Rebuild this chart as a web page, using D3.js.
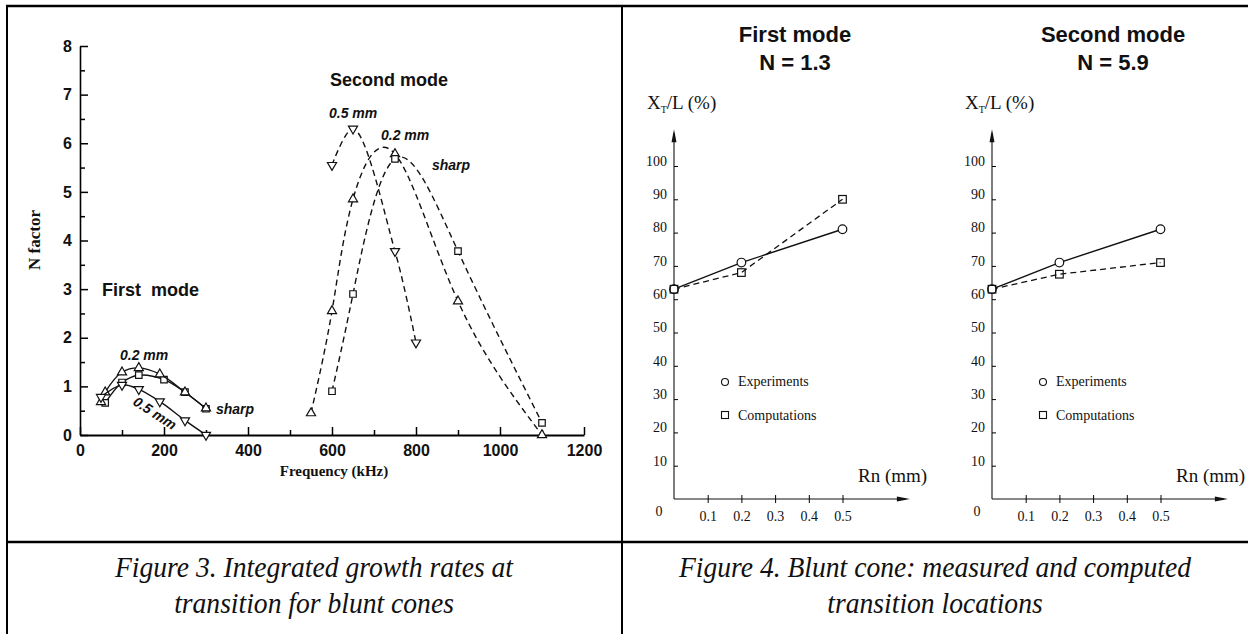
<!DOCTYPE html>
<html>
<head>
<meta charset="utf-8">
<script src="https://cdn.jsdelivr.net/npm/d3@7"></script>
<style>
  body { margin: 0; background: #fff; }
  text { fill: #111; }
</style>
</head>
<body>
<svg id="fig" width="1248" height="634"></svg>
<script>
/* Figure 3 data - N factor vs frequency (kHz) */
/* first mode, solid lines */
const m1SharpFreq = [60, 100, 140, 200, 250, 300];
const m1SharpN    = [0.66, 1.08, 1.23, 1.14, 0.88, 0.54];
const m1Blunt02Freq = [50, 60, 100, 140, 190, 250, 300];
const m1Blunt02N    = [0.68, 0.88, 1.29, 1.38, 1.25, 0.88, 0.55];
const m1Blunt05Freq = [50, 100, 140, 190, 250, 300];
const m1Blunt05N    = [0.78, 1.03, 0.94, 0.69, 0.30, 0.0];
/* second mode, dashed lines */
const m2Blunt05Freq = [600, 650, 750, 800];
const m2Blunt05N    = [5.55, 6.30, 3.78, 1.90];
const m2Blunt02Freq = [550, 600, 650, 750, 900, 1100];
const m2Blunt02N    = [0.45, 2.55, 4.85, 5.78, 2.75, 0.0];
const m2SharpFreq = [600, 650, 750, 900, 1100];
const m2SharpN    = [0.90, 2.90, 5.68, 3.78, 0.25];
const freqTicks = [0, 200, 400, 600, 800, 1000, 1200];
const nTicks = [0, 1, 2, 3, 4, 5, 6, 7, 8];

/* Figure 4 data - transition location XT/L (%) vs nose radius Rn (mm) */
const rnValues = [0, 0.2, 0.5];
const firstExp  = [63, 71, 81];
const firstComp = [63, 68, 90];
const secondExp  = [63, 71, 81];
const secondComp = [63, 67.5, 71];
const rnTicks = [0.1, 0.2, 0.3, 0.4, 0.5];
const xtTicks = [10, 20, 30, 40, 50, 60, 70, 80, 90, 100];

const svg = d3.select("#fig");
const sans = "'Liberation Sans', Arial, Helvetica, sans-serif";
const serif = "'Liberation Serif', 'Times New Roman', serif";

svg.append("rect").attr("width", 1248).attr("height", 634).attr("fill", "#fff");

/* table frame */
const frame = svg.append("g").attr("stroke", "#000").attr("fill", "none");
frame.append("line").attr("x1", 6).attr("x2", 1248).attr("y1", 6).attr("y2", 6).attr("stroke-width", 2.5);
frame.append("line").attr("x1", 7).attr("x2", 7).attr("y1", 5).attr("y2", 634).attr("stroke-width", 2);
frame.append("line").attr("x1", 622).attr("x2", 622).attr("y1", 5).attr("y2", 634).attr("stroke-width", 2);
frame.append("line").attr("x1", 6).attr("x2", 1248).attr("y1", 542).attr("y2", 542).attr("stroke-width", 2.5);

/* captions - tall, slightly condensed italic */
const cap = svg.append("g")
    .style("font-family", serif)
    .style("font-style", "italic")
    .style("font-size", "30px")
    .attr("text-anchor", "middle");
const capLines = [
    [314, 577, "Figure 3. Integrated growth rates at"],
    [314, 613, "transition for blunt cones"],
    [935, 577, "Figure 4. Blunt cone: measured and computed"],
    [935, 613, "transition locations"]
];
capLines.forEach(c => {
    cap.append("text")
        .attr("transform", `translate(${c[0]},${c[1]}) scale(0.92,1)`)
        .text(c[2]);
});

/* ---------- Figure 3 ---------- */
const x3 = d3.scaleLinear().domain([0, 1200]).range([80, 584]);
const y3 = d3.scaleLinear().domain([0, 8]).range([435, 46]);
const g3 = svg.append("g");

/* minor ticks */
g3.append("g").attr("transform", "translate(80,0)")
    .call(d3.axisLeft(y3).tickValues(d3.range(0.5, 8, 1)).tickSizeInner(-5).tickSizeOuter(0).tickFormat(""))
    .call(g => g.select(".domain").remove());
g3.append("g").attr("transform", "translate(0,435)")
    .call(d3.axisBottom(x3).tickValues(d3.range(100, 1200, 200)).tickSizeInner(-5).tickSizeOuter(0).tickFormat(""))
    .call(g => g.select(".domain").remove());

const yAx3 = g3.append("g").attr("transform", "translate(80,0)")
    .call(d3.axisLeft(y3).tickValues(nTicks).tickSizeInner(-8).tickSizeOuter(0).tickPadding(8));
yAx3.select(".domain").attr("stroke-width", 1.6);
const xAx3 = g3.append("g").attr("transform", "translate(0,435)")
    .call(d3.axisBottom(x3).tickValues(freqTicks).tickSizeInner(-8).tickSizeOuter(0).tickPadding(10)
        .tickFormat(d3.format("d")));
xAx3.select(".domain").attr("stroke-width", 2.2);
g3.selectAll(".tick line").attr("stroke-width", 1.5);
g3.selectAll(".tick text")
    .style("font-family", sans).style("font-weight", "bold").style("font-size", "16px").attr("fill", "#111");

g3.append("text")
    .attr("transform", "translate(40,240) rotate(-90)")
    .attr("text-anchor", "middle")
    .style("font-family", serif).style("font-weight", "bold").style("font-size", "17px")
    .text("N factor");
g3.append("text")
    .attr("x", 334).attr("y", 476)
    .attr("text-anchor", "middle")
    .style("font-family", serif).style("font-weight", "bold").style("font-size", "15px")
    .text("Frequency (kHz)");

const lineRound = d3.line()
    .x(d => x3(d[0]))
    .y(d => y3(d[1]))
    .curve(d3.curveCatmullRom.alpha(0.5));
const lineNatural = d3.line()
    .x(d => x3(d[0]))
    .y(d => y3(d[1]))
    .curve(d3.curveNatural);

const series3 = [
    { f: m1SharpFreq, n: m1SharpN, sym: "square", dash: null, line: lineRound },
    { f: m1Blunt02Freq, n: m1Blunt02N, sym: "up", dash: null, line: lineRound },
    { f: m1Blunt05Freq, n: m1Blunt05N, sym: "down", dash: null, line: lineRound },
    { f: m2Blunt05Freq, n: m2Blunt05N, sym: "down", dash: "6,4", line: lineRound },
    { f: m2Blunt02Freq, n: m2Blunt02N, sym: "up", dash: "6,4", line: lineNatural },
    { f: m2SharpFreq, n: m2SharpN, sym: "square", dash: "6,4", line: lineNatural }
];

const sqSym = d3.symbol().type(d3.symbolSquare).size(42);
const triSym = d3.symbol().type(d3.symbolTriangle).size(36);

series3.forEach(s => {
    const pts = s.f.map((f, i) => [f, s.n[i]]);
    g3.append("path")
        .attr("d", s.line(pts))
        .attr("fill", "none")
        .attr("stroke", "#111")
        .attr("stroke-width", 1.4)
        .attr("stroke-dasharray", s.dash);
    g3.selectAll(null)
        .data(pts)
        .join("path")
        .attr("d", s.sym === "square" ? sqSym() : triSym())
        .attr("transform", d => `translate(${x3(d[0])},${y3(d[1])})` + (s.sym === "down" ? " rotate(180)" : ""))
        .attr("fill", "#fff")
        .attr("stroke", "#111")
        .attr("stroke-width", 1.2);
});

const lab3 = g3.append("g")
    .style("font-family", sans).style("font-weight", "bold");
lab3.append("text").attr("x", 330).attr("y", 86).style("font-size", "18px").text("Second mode");
lab3.append("text").attr("x", 102).attr("y", 296).style("font-size", "18px")
    .style("white-space", "pre").text("First  mode");
const itl = lab3.append("g").style("font-style", "italic").style("font-size", "14px");
itl.append("text").attr("x", 329).attr("y", 118).text("0.5 mm");
itl.append("text").attr("x", 381).attr("y", 140).text("0.2 mm");
itl.append("text").attr("x", 432).attr("y", 170).text("sharp");
itl.append("text").attr("x", 120).attr("y", 360).text("0.2 mm");
itl.append("text").attr("x", 216).attr("y", 414).text("sharp");
itl.append("text").attr("transform", "translate(132,404) rotate(33)").text("0.5 mm");

/* ---------- Figure 4 ---------- */
function panel(x0, title1, title2, expVals, compVals) {
    const xs = d3.scaleLinear().domain([0, 0.5]).range([x0, x0 + 168.5]);
    const ys = d3.scaleLinear().domain([0, 100]).range([499, 166]);
    const g = svg.append("g");

    /* axes with arrow heads */
    const xEnd = xs(0.7), yEnd = ys(111);
    g.append("line").attr("x1", x0).attr("x2", xEnd - 4).attr("y1", ys(0)).attr("y2", ys(0))
        .attr("stroke", "#111").attr("stroke-width", 1.1);
    g.append("line").attr("x1", x0).attr("x2", x0).attr("y1", ys(0)).attr("y2", yEnd + 4)
        .attr("stroke", "#111").attr("stroke-width", 1.1);
    g.append("path").attr("d", `M${xEnd},${ys(0)} L${xEnd - 13},${ys(0) - 2.5} L${xEnd - 13},${ys(0) + 2.5}Z`).attr("fill", "#111");
    g.append("path").attr("d", `M${x0},${yEnd} L${x0 - 2.5},${yEnd + 13} L${x0 + 2.5},${yEnd + 13}Z`).attr("fill", "#111");

    const ax = g.append("g").attr("transform", `translate(0,${ys(0)})`)
        .call(d3.axisBottom(xs).tickValues(rnTicks).tickSizeOuter(0).tickSizeInner(4).tickPadding(8).tickFormat(d3.format(".1f")));
    ax.select(".domain").remove();
    ax.selectAll(".tick line").attr("y1", -4).attr("stroke-width", 1);
    const ay = g.append("g").attr("transform", `translate(${x0},0)`)
        .call(d3.axisLeft(ys).tickValues(xtTicks).tickSizeOuter(0).tickSizeInner(2).tickPadding(5));
    ay.select(".domain").remove();
    ay.selectAll(".tick line").attr("x2", 4).attr("stroke-width", 1);
    ay.selectAll(".tick text").attr("dy", "-0.05em");
    g.selectAll(".tick text").style("font-family", serif).style("font-size", "14px").attr("fill", "#111");
    g.append("text").attr("x", x0 - 15).attr("y", 516).attr("text-anchor", "middle")
        .style("font-family", serif).style("font-size", "14px").text("0");

    /* titles */
    const tt = g.append("g").attr("text-anchor", "middle")
        .style("font-family", sans).style("font-weight", "bold").style("font-size", "22px")
        .style("white-space", "pre");
    tt.append("text").attr("x", x0 + 121).attr("y", 42).text(title1);
    tt.append("text").attr("x", x0 + 121).attr("y", 70).text(title2);

    const yl = g.append("text").attr("x", x0 - 27).attr("y", 109)
        .style("font-family", serif).style("font-size", "19px");
    yl.append("tspan").text("X");
    yl.append("tspan").attr("dy", 4).style("font-size", "10px").text("T");
    yl.append("tspan").attr("dy", -4).text("/L (%)");
    g.append("text").attr("x", x0 + 184).attr("y", 482)
        .style("font-family", serif).style("font-size", "19px").text("Rn (mm)");

    /* series */
    const line = d3.line().x((d, i) => xs(rnValues[i])).y(d => ys(d));
    g.append("path").attr("d", line(compVals)).attr("fill", "none")
        .attr("stroke", "#111").attr("stroke-width", 1.3).attr("stroke-dasharray", "6,4");
    g.append("path").attr("d", line(expVals)).attr("fill", "none")
        .attr("stroke", "#111").attr("stroke-width", 1.4);
    g.selectAll(null).data(expVals).join("circle")
        .attr("cx", (d, i) => xs(rnValues[i])).attr("cy", d => ys(d)).attr("r", 4.3)
        .attr("fill", "#fff").attr("stroke", "#111").attr("stroke-width", 1.2);
    g.selectAll(null).data(compVals).join("rect")
        .attr("x", (d, i) => xs(rnValues[i]) - 3.8).attr("y", d => ys(d) - 3.8)
        .attr("width", 7.6).attr("height", 7.6)
        .attr("fill", "none").attr("stroke", "#111").attr("stroke-width", 1.2);

    /* legend */
    const lg = g.append("g").style("font-family", serif).style("font-size", "14px");
    lg.append("circle").attr("cx", x0 + 51).attr("cy", 382).attr("r", 3.5)
        .attr("fill", "none").attr("stroke", "#111").attr("stroke-width", 1.1);
    lg.append("text").attr("x", x0 + 64).attr("y", 386).text("Experiments");
    lg.append("rect").attr("x", x0 + 47.5).attr("y", 411.5).attr("width", 7).attr("height", 7)
        .attr("fill", "none").attr("stroke", "#111").attr("stroke-width", 1.1);
    lg.append("text").attr("x", x0 + 64).attr("y", 420).text("Computations");
}

panel(674, "First  mode", "N  =  1.3", firstExp, firstComp);
panel(992, "Second  mode", "N  =  5.9", secondExp, secondComp);
</script>
</body>
</html>
